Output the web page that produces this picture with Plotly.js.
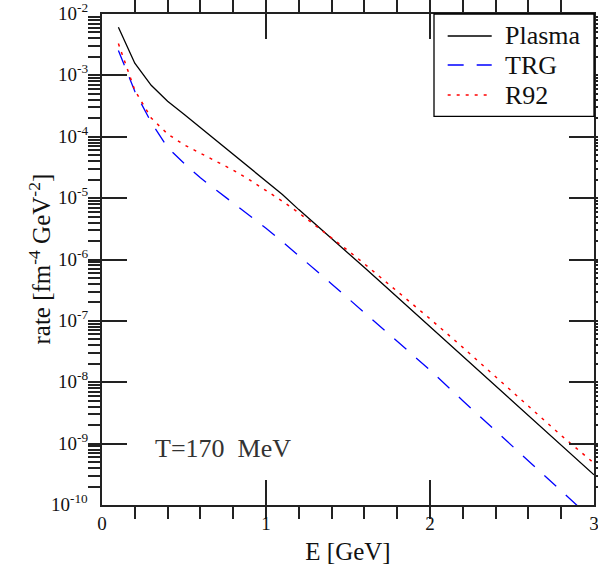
<!DOCTYPE html>
<html>
<head>
<meta charset="utf-8">
<script src="https://cdn.plot.ly/plotly-3.0.1.min.js"></script>
<style>html,body{margin:0;padding:0;background:#fff;} #chart{width:598px;height:573px;}</style>
</head>
<body>
<div id="chart"></div>
<script>
// Photon energy E [GeV]
const energy = [0.1,0.2,0.3,0.4,0.5,0.6,0.7,0.8,0.9,1.0,1.1,1.2,1.3,1.4,1.5,1.6,1.7,1.8,1.9,2.0,2.2,2.4,2.6,2.8,3.0];
// rate [fm^-4 GeV^-2]
const plasma = [6.1e-3,1.58e-3,6.9e-4,3.8e-4,2.32e-4,1.41e-4,8.7e-5,5.25e-5,3.16e-5,1.9e-5,1.15e-5,6.5e-6,3.8e-6,2.2e-6,1.29e-6,7.4e-7,4.27e-7,2.45e-7,1.41e-7,8.05e-8,2.63e-8,8.7e-9,2.88e-9,9.3e-10,3.1e-10];
const trg    = [2.55e-3,5.5e-4,1.71e-4,6.7e-5,3.69e-5,2.14e-5,1.33e-5,8.3e-6,5.2e-6,3.24e-6,1.95e-6,1.17e-6,6.8e-7,4.0e-7,2.32e-7,1.36e-7,7.9e-8,4.7e-8,2.72e-8,1.58e-8,5.0e-9,1.62e-9,5.25e-10,1.7e-10,5.5e-11];
const r92    = [3.3e-3,5.7e-4,2.02e-4,1.11e-4,7.4e-5,5.4e-5,3.96e-5,2.86e-5,1.98e-5,1.34e-5,8.9e-6,5.75e-6,3.61e-6,2.26e-6,1.40e-6,8.5e-7,5.1e-7,3.08e-7,1.83e-7,1.08e-7,3.7e-8,1.24e-8,4.2e-9,1.36e-9,4.8e-10];

const seriesNames = ["Plasma","TRG","R92"];
const seriesColors = ["#000000","#0000ff","#ff0000"];
const seriesDash = ["solid","16px,13px","3px,6px"];
const yTickVals = [1e-10,1e-9,1e-8,1e-7,1e-6,1e-5,1e-4,1e-3,1e-2];
const yTickText = ["10<sup>-10</sup>","10<sup>-9</sup>","10<sup>-8</sup>","10<sup>-7</sup>","10<sup>-6</sup>","10<sup>-5</sup>","10<sup>-4</sup>","10<sup>-3</sup>","10<sup>-2</sup>"];
const yTitle = "rate [fm<sup>-4</sup>\u00A0GeV<sup>-2</sup>]";
const annotationText = "T=170\u00A0\u00A0MeV";

const FONT = "Liberation Serif, Times New Roman, serif";
const INK = "#111";
const AX = "#222";

const traces = [plasma, trg, r92].map((ys, i) => ({
  x: energy, y: ys, name: seriesNames[i], mode: "lines", showlegend: false,
  line: {color: seriesColors[i], width: i === 2 ? 1.5 : 1.3, dash: seriesDash[i]}
}));

// legend drawn as a boxed key in paper coordinates (top-right corner)
const legendRowsY = [0.9552, 0.8961, 0.8350];
const shapes = [{
  type: "rect", xref: "paper", yref: "paper", x0: 0.6748, x1: 1.0, y0: 0.7916, y1: 1.0,
  fillcolor: "#ffffff", line: {color: "#000", width: 1.3}, layer: "above"
}];
const annotations = [];
seriesNames.forEach((nm, i) => {
  shapes.push({type: "line", xref: "paper", yref: "paper", x0: 0.7026, x1: 0.7921,
    y0: legendRowsY[i], y1: legendRowsY[i], layer: "above",
    line: {color: seriesColors[i], width: i === 2 ? 1.5 : 1.3, dash: seriesDash[i]}});
  annotations.push({xref: "paper", yref: "paper", x: 0.8144, y: legendRowsY[i], xanchor: "left", yanchor: "middle",
    text: nm, showarrow: false, font: {family: FONT, size: 26, color: INK}});
});

// y tick labels placed on the log axis (annotation y is given in decades on a log axis)
yTickVals.forEach((v, i) => {
  annotations.push({xref: "paper", yref: "y", x: -0.0244, y: Math.log10(v), xanchor: "right", yanchor: "middle",
    yshift: 2, text: yTickText[i], showarrow: false, font: {family: FONT, size: 19, color: INK}});
});
// y axis title
annotations.push({xref: "paper", yref: "paper", x: -0.128, y: 0.5, xanchor: "center", yanchor: "middle",
  textangle: -90, text: yTitle, showarrow: false, font: {family: FONT, size: 25, color: INK}});
// temperature label
annotations.push({xref: "paper", yref: "paper", x: 0.103, y: 0.116, xanchor: "left", yanchor: "middle",
  text: annotationText, showarrow: false, font: {family: FONT, size: 26, color: "#333"}});

const layout = {
  width: 598, height: 573,
  margin: {l: 102, r: 4, t: 14, b: 68, pad: 0},
  font: {family: FONT, color: INK},
  showlegend: false,
  xaxis: {
    range: [0, 3], tick0: 0, dtick: 1,
    showgrid: false, zeroline: false, showline: true, linecolor: AX, linewidth: 1.5,
    mirror: "allticks", ticks: "inside", ticklen: 25, tickwidth: 1.5, tickcolor: AX,
    minor: {dtick: 0.2, ticklen: 12, tickwidth: 1.5, tickcolor: AX},
    tickfont: {family: FONT, size: 19, color: INK}, ticklabeloverflow: "allow",
    title: {text: "E [GeV]", font: {family: FONT, size: 25, color: INK}, standoff: 10}
  },
  yaxis: {
    type: "log", range: [-10, -2], dtick: 1,
    showgrid: false, zeroline: false, showline: true, linecolor: AX, linewidth: 1.5,
    mirror: "allticks", ticks: "inside", ticklen: 25, tickwidth: 1.5, tickcolor: AX,
    minor: {dtick: "D1", ticklen: 12, tickwidth: 1.5, tickcolor: AX},
    showticklabels: false
  },
  shapes: shapes,
  annotations: annotations
};

Plotly.newPlot("chart", traces, layout, {displayModeBar: false});
</script>
</body>
</html>
